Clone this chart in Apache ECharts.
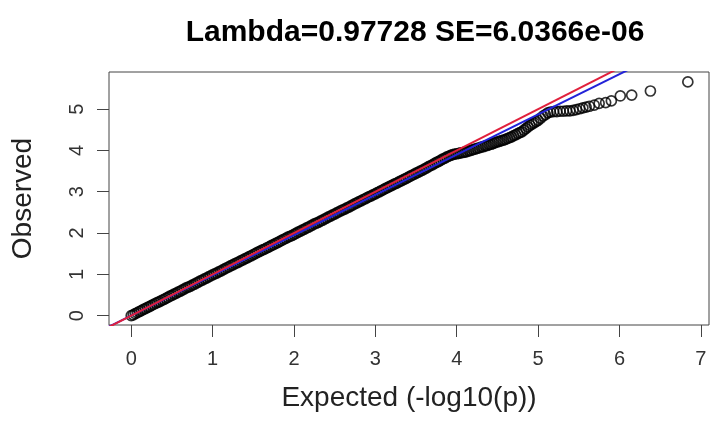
<!DOCTYPE html>
<html>
<head>
<meta charset="utf-8">
<script src="https://cdn.jsdelivr.net/npm/echarts@6/dist/echarts.min.js"></script>
<style>html,body{margin:0;padding:0;background:#fff;}#c{width:710px;height:427px;}</style>
</head>
<body>
<div id="c"></div>
<script>
// ---- data ----
const titleText = 'Lambda=0.97728 SE=6.0366e-06';
const xTicks = [0, 1, 2, 3, 4, 5, 6, 7];
const yTicks = [0, 1, 2, 3, 4, 5];
const expected = [
  0.000,0.025,0.050,0.075,0.100,0.125,0.150,0.175,0.200,0.225,
  0.250,0.275,0.300,0.325,0.350,0.375,0.400,0.425,0.450,0.475,
  0.500,0.525,0.550,0.575,0.600,0.625,0.650,0.675,0.700,0.725,
  0.750,0.775,0.800,0.825,0.850,0.875,0.900,0.925,0.950,0.975,
  1.000,1.025,1.050,1.075,1.100,1.125,1.150,1.175,1.200,1.225,
  1.250,1.275,1.300,1.325,1.350,1.375,1.400,1.425,1.450,1.475,
  1.500,1.525,1.550,1.575,1.600,1.625,1.650,1.675,1.700,1.725,
  1.750,1.775,1.800,1.825,1.850,1.875,1.900,1.925,1.950,1.975,
  2.000,2.025,2.050,2.075,2.100,2.125,2.150,2.175,2.200,2.225,
  2.250,2.275,2.300,2.325,2.350,2.375,2.400,2.425,2.450,2.475,
  2.500,2.525,2.550,2.575,2.600,2.625,2.650,2.675,2.700,2.725,
  2.750,2.775,2.800,2.825,2.850,2.875,2.900,2.925,2.950,2.975,
  3.000,3.025,3.050,3.075,3.100,3.125,3.150,3.175,3.200,3.225,
  3.250,3.275,3.300,3.325,3.350,3.375,3.400,3.425,3.450,3.475,
  3.500,3.525,3.550,3.575,3.600,3.625,3.650,3.675,3.700,3.725,
  3.750,3.775,3.800,3.825,3.850,3.875,3.900,3.925,3.950,3.975,
  4.000,4.025,4.050,4.075,4.100,4.125,4.150,4.175,4.200,4.225,
  4.250,4.275,4.300,4.325,4.350,4.375,4.400,4.425,4.450,4.475,
  4.500,4.525,4.550,4.575,4.600,4.625,4.650,4.675,4.700,4.725,
  4.750,4.775,4.800,4.825,4.850,4.875,4.900,4.925,4.950,4.975,
  5.00,5.03,5.06,5.09,5.12,5.15,5.19,5.23,5.27,5.31,
  5.35,5.39,5.43,5.47,5.51,5.55,5.59,5.63,5.69,5.75,
  5.83,5.90,6.01,6.15,6.38,6.84
];
const observed = [
  0.00,0.02,0.05,0.07,0.10,0.12,0.15,0.17,0.20,0.22,
  0.25,0.27,0.30,0.32,0.34,0.37,0.39,0.42,0.44,0.47,
  0.49,0.52,0.54,0.57,0.59,0.62,0.64,0.67,0.69,0.71,
  0.74,0.76,0.79,0.81,0.84,0.86,0.89,0.91,0.94,0.96,
  0.99,1.01,1.03,1.06,1.08,1.11,1.13,1.16,1.18,1.21,
  1.23,1.26,1.28,1.30,1.33,1.35,1.38,1.40,1.43,1.45,
  1.48,1.50,1.53,1.55,1.58,1.60,1.62,1.65,1.67,1.70,
  1.72,1.75,1.77,1.80,1.82,1.85,1.87,1.90,1.92,1.94,
  1.97,1.99,2.02,2.04,2.07,2.09,2.12,2.14,2.17,2.19,
  2.22,2.24,2.26,2.29,2.31,2.34,2.36,2.39,2.41,2.44,
  2.46,2.49,2.51,2.54,2.56,2.58,2.61,2.63,2.66,2.68,
  2.71,2.73,2.76,2.78,2.81,2.83,2.86,2.88,2.90,2.93,
  2.95,2.98,3.00,3.03,3.05,3.08,3.10,3.13,3.15,3.18,
  3.20,3.22,3.25,3.27,3.30,3.32,3.35,3.37,3.40,3.42,
  3.45,3.47,3.50,3.52,3.55,3.57,3.60,3.63,3.65,3.68,
  3.71,3.73,3.76,3.79,3.81,3.84,3.86,3.88,3.90,3.91,
  3.92,3.93,3.94,3.95,3.96,3.97,3.99,4.00,4.02,4.03,
  4.05,4.06,4.08,4.09,4.11,4.12,4.14,4.15,4.17,4.19,
  4.21,4.22,4.24,4.25,4.27,4.29,4.31,4.33,4.36,4.38,
  4.41,4.43,4.45,4.49,4.53,4.57,4.61,4.64,4.67,4.70,
  4.73,4.78,4.83,4.87,4.91,4.93,4.94,4.94,4.95,4.95,
  4.96,4.96,4.97,4.99,5.01,5.03,5.05,5.07,5.10,5.14,
  5.16,5.20,5.32,5.34,5.44,5.66
];
// reference lines: identity (red) and fitted (blue)
const redLine = [[-0.5, -0.5], [7.5, 7.5]];
const blueLine = [[-0.5, -0.487], [7.5, 7.31]];
const xRange = [-0.273, 7.1];
const yRange = [-0.227, 5.9];

const points = expected.map((x, i) => [x, observed[i]]);
const FONT = '"Liberation Sans", Arial, sans-serif';

const chart = echarts.init(document.getElementById('c'), null, {renderer: 'canvas'});
chart.setOption({
  animation: false,
  backgroundColor: '#fff',
  title: {
    text: titleText,
    left: 410, textAlign: 'center', top: 13,
    textStyle: {fontFamily: FONT, fontSize: 30, fontWeight: 'bold', color: '#000'}
  },
  grid: {
    left: 109, right: 1, top: 72, bottom: 102,
    show: true, borderColor: '#444', borderWidth: 1, backgroundColor: 'transparent'
  },
  xAxis: {
    type: 'value', min: xRange[0], max: xRange[1],
    name: 'Expected (-log10(p))', nameLocation: 'middle', nameGap: 59,
    nameTextStyle: {fontFamily: FONT, fontSize: 28, color: '#222'},
    axisLine: {show: false, onZero: false},
    splitLine: {show: false},
    axisTick: {show: true, inside: false, length: 12, customValues: xTicks, lineStyle: {color: '#444', width: 1}},
    axisLabel: {customValues: xTicks, margin: 24, fontFamily: FONT, fontSize: 20, color: '#333'}
  },
  yAxis: {
    type: 'value', min: yRange[0], max: yRange[1],
    name: 'Observed', nameLocation: 'middle', nameGap: 72,
    nameTextStyle: {fontFamily: FONT, fontSize: 28, color: '#222'},
    axisLine: {show: false, onZero: false},
    splitLine: {show: false},
    axisTick: {show: true, inside: false, length: 12, customValues: yTicks, lineStyle: {color: '#444', width: 1}},
    axisLabel: {customValues: yTicks, rotate: 90, margin: 22, fontFamily: FONT, fontSize: 20, color: '#333'}
  },
  series: [
    {
      type: 'scatter', data: points, symbol: 'circle', symbolSize: 10,
      itemStyle: {color: 'rgba(0,0,0,0)', borderColor: '#000', borderWidth: 1.7},
      z: 2, clip: true
    },
    {
      type: 'line', data: blueLine, symbol: 'none', clip: true,
      lineStyle: {color: '#2323d8', width: 2}, z: 3
    },
    {
      type: 'line', data: redLine, symbol: 'none', clip: true,
      lineStyle: {color: '#e0203c', width: 2}, z: 4
    }
  ]
});
</script>
</body>
</html>
